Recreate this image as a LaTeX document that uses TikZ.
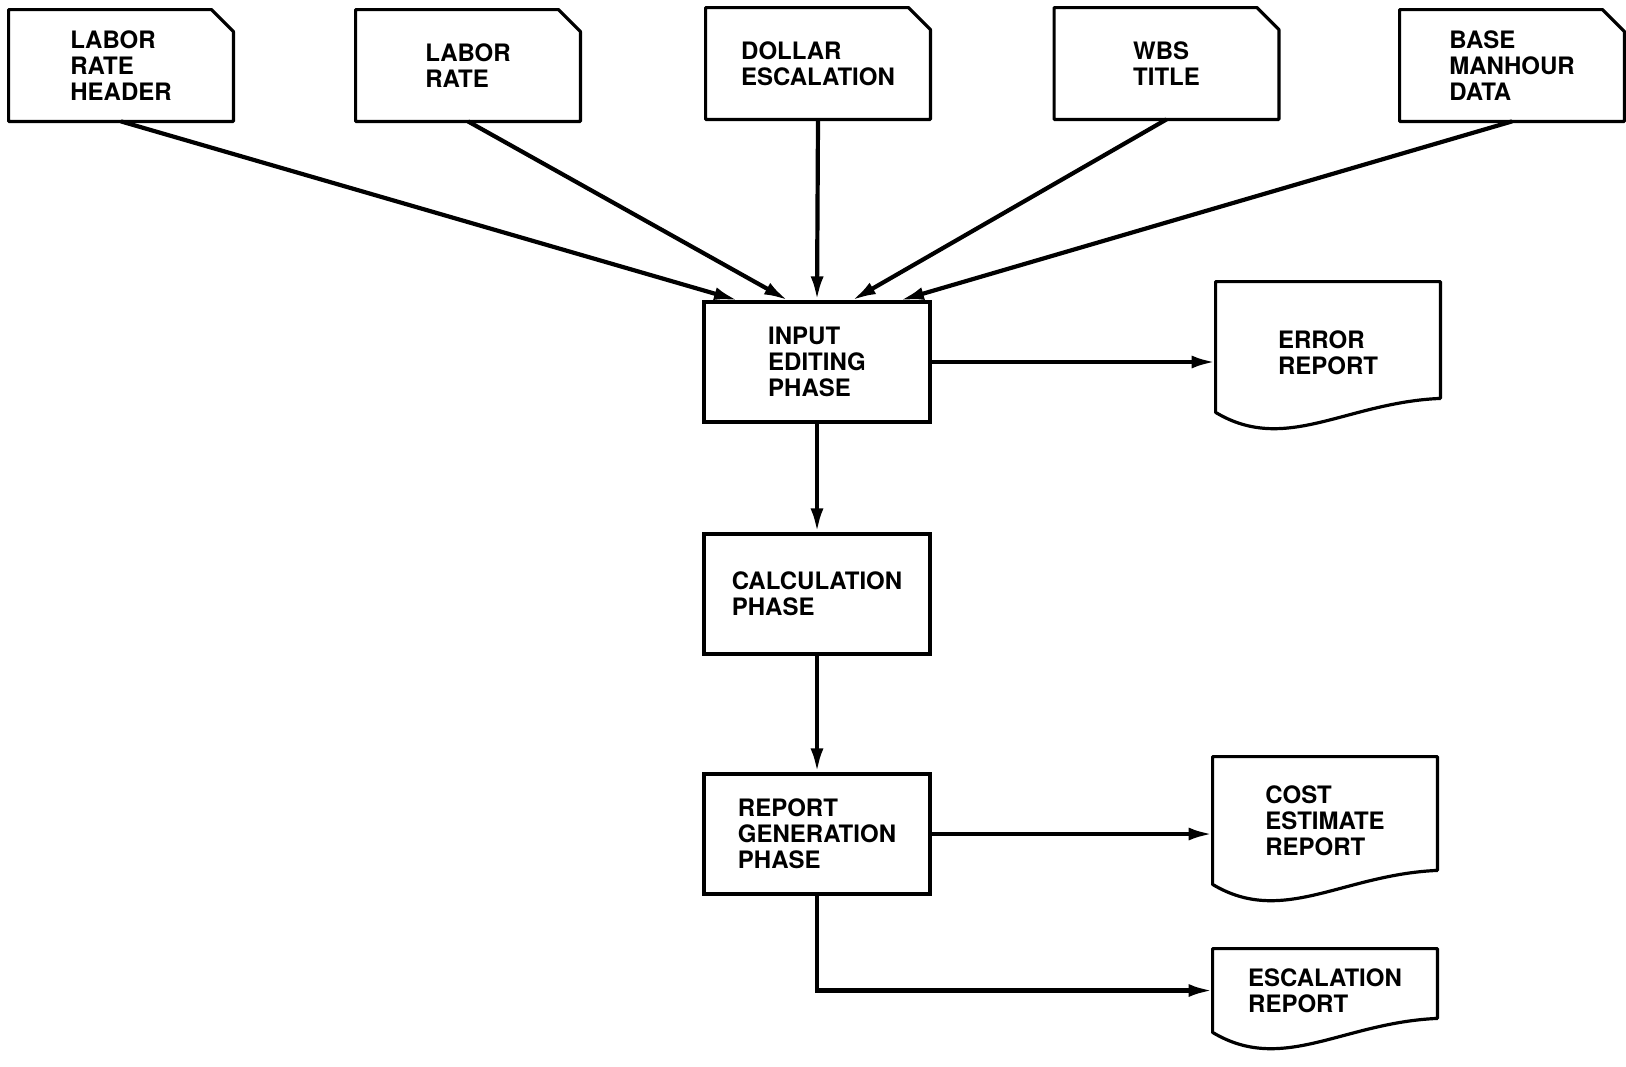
\documentclass[tikz,border=0pt]{standalone}
\usepackage{fontspec}
\setmainfont{TeX Gyre Heros}
\usetikzlibrary{arrows.meta}

\begin{document}
\begin{tikzpicture}[
  x = 0.5pt, y = -0.5pt,
  every node/.style = {
    font = \fontsize{12}{13}\selectfont\bfseries,
    align = left,
    inner sep = 0pt,
  },
  card/.style = {
    shape = rectangle,
    minimum width = 112pt,
    minimum height = 55.5pt,
  },
  phase/.style = {
    shape = rectangle,
    draw,
    line width = 1.6pt,
    minimum width = 113pt,
    minimum height = 60pt,
  },
  report/.style = {
    shape = rectangle,
    minimum width = 112pt,
  },
  outline/.style = {
    line width = 1.6pt,
    line join = round
  },
  flow/.style = {
    line width = 2.1pt,
    -{Latex[length=12pt, width=6.5pt]}
  }
]
  \useasboundingbox (0, 0) rectangle (1626, 1066);

  % input cards
  \node[card] (header) at (121, 65.5) {LABOR\\RATE\\HEADER};
  \node[card] (rate) at (468, 65.5) {LABOR\\RATE};
  \node[card] (dollar) at (818, 63.5) {DOLLAR\\ESCALATION};
  \node[card] (wbs) at (1166.5, 63.5) {WBS\\TITLE};
  \node[card] (base) at (1512, 65.5) {BASE\\MANHOUR\\DATA};

  \foreach \c in {header, rate, dollar, wbs, base}
    \draw[outline] (\c.south west) -- (\c.north west)
      -- ([xshift = -11pt]\c.north east) -- ([yshift = -11pt]\c.north east)
      -- (\c.south east) -- cycle;

  % phases
  \node[phase] (edit) at (817, 362) {INPUT\\EDITING\\PHASE};
  \node[phase] (calc) at (817, 594) {CALCULATION\\PHASE};
  \node[phase] (gen) at (817, 834) {REPORT\\GENERATION\\PHASE};

  % reports
  \node[report, minimum height = 65pt] (err) at (1328, 347) {\rule{0pt}{15pt}ERROR\\REPORT};
  \node[report, minimum height = 63.5pt] (cost) at (1325, 820.5) {COST\\ESTIMATE\\REPORT};
  \node[report, minimum height = 41.5pt] (esc) at (1325, 990.5) {ESCALATION\\REPORT};

  \foreach \r in {err, cost, esc}
    \draw[outline] (\r.north west) -- (\r.north east)
      -- ([yshift = 7pt]\r.south east)
      .. controls ([xshift = 65pt, yshift = 5pt]\r.south west)
      and ([xshift = 35pt, yshift = -21pt]\r.south west) .. (\r.south west)
      -- cycle;

  \draw[flow] (header.south) -- ([xshift = -39.5pt]edit.north);
  \draw[flow] (rate.south) -- ([xshift = -14.5pt]edit.north);
  \draw[flow] (dollar.south) -- (edit.north);
  \draw[flow] (wbs.south) -- ([xshift = 17.5pt]edit.north);
  \draw[flow] (base.south) -- ([xshift = 41.5pt]edit.north);

  \draw[flow] (edit.east) -- (edit.east -| err.west);
  \draw[flow] (edit) -- (calc);
  \draw[flow] (calc) -- (gen);
  \draw[flow] (gen.east) -- (gen.east -| cost.west);
  \draw[flow] (gen.south) |- (esc.west);
\end{tikzpicture}
\end{document}
